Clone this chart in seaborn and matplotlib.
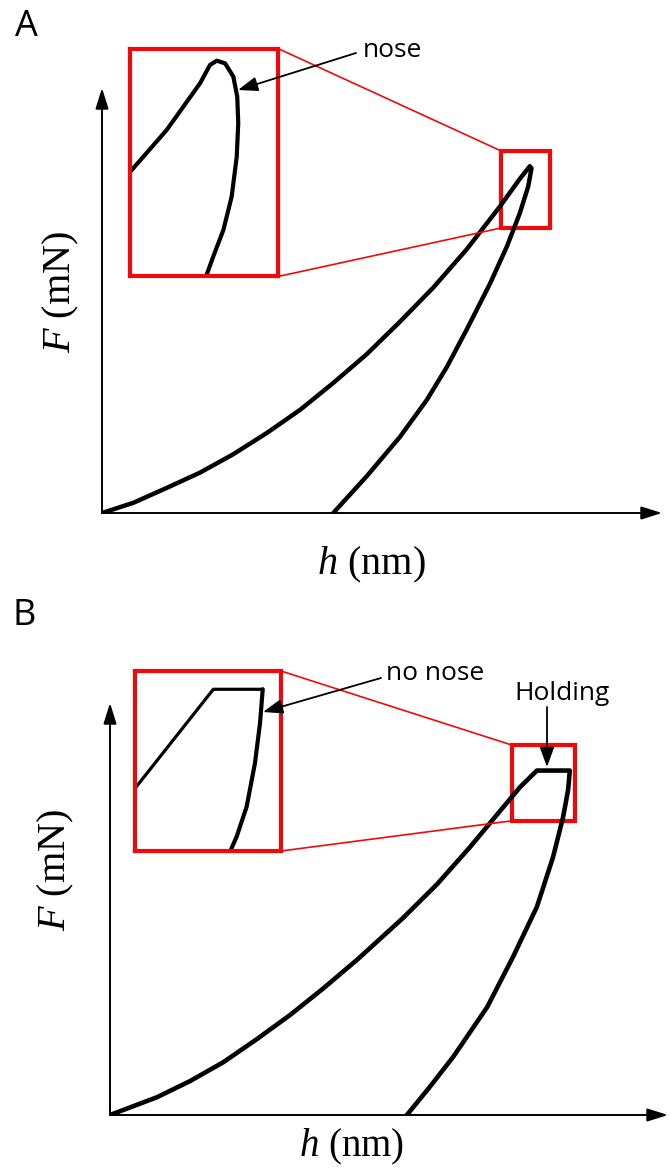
import numpy as np
import pandas as pd
import matplotlib
matplotlib.use("Agg")
import matplotlib.pyplot as plt
import seaborn as sns
from matplotlib.patches import Rectangle, ConnectionPatch, FancyArrowPatch

# ---------------- data (h in nm, F in mN, arbitrary schematic units) ----------------
# Panel A: loading / unloading curve with a "nose"
load_A_h = [0.0, 5.6, 11.55, 17.5, 23.4, 29.4, 35.4, 41.3, 47.3, 53.2, 59.2, 65.1, 71.1, 74.6, 76.4]
load_A_F = [0.0, 2.4, 5.9, 9.5, 13.8, 18.8, 24.3, 30.6, 37.4, 45.0, 53.1, 62.0, 72.2, 78.6, 81.6]
unload_A_h = [76.7, 76.1, 74.6, 72.3, 69.3, 65.1, 61.6, 58.0, 53.2, 47.3, 41.3]
unload_A_F = [81.1, 76.8, 70.5, 62.7, 54.0, 43.1, 34.4, 26.6, 17.9, 8.7, 0.0]
# zoomed view of the peak (panel A inset)
zoom_A_h = [71.0, 71.35, 73.42, 75.39, 75.98, 76.38, 76.87, 77.36, 77.59, 77.65, 77.56, 77.26, 76.77, 76.17, 75.74, 75.6]
zoom_A_F = [75.0, 75.53, 78.72, 82.43, 83.89, 84.23, 84.02, 82.96, 81.37, 79.27, 76.59, 73.41, 70.76, 68.64, 67.04, 66.5]

# Panel B: loading, holding, unloading (no nose)
load_B_h = [0.0, 8.4, 14.3, 20.3, 26.3, 32.3, 38.2, 44.3, 52.5, 58.6, 64.5, 70.4, 73.5, 76.5]
load_B_F = [0.0, 4.3, 8.2, 12.8, 18.4, 24.3, 30.7, 37.7, 47.8, 56.0, 65.0, 74.6, 79.6, 83.6]
hold_B_h = [76.5, 82.4]
hold_B_F = [83.6, 83.6]
unload_B_h = [82.4, 82.1, 81.2, 79.4, 76.5, 72.2, 67.6, 61.5, 57.3, 53.2]
unload_B_F = [83.6, 78.9, 72.3, 62.6, 50.5, 38.3, 26.2, 14.1, 6.8, 0.0]
# zoomed view of the peak (panel B inset)
zoom_B_load_h = [71.8, 78.08]
zoom_B_load_F = [77.4, 87.93]
zoom_B_hold_h = [78.08, 81.89]
zoom_B_hold_F = [87.93, 87.93]
zoom_B_unload_h = [81.89, 81.68, 81.29, 80.65, 79.88, 79.37, 79.2]
zoom_B_unload_F = [87.93, 84.45, 80.37, 75.93, 72.87, 71.33, 70.8]

panel_labels = ["A", "B"]
annot_A = "nose"
annot_B = "no nose"
annot_hold = "Holding"
xlabel = r"$h$ (nm)"
ylabel = r"$F$ (mN)"

# ---------------- style ----------------
sns.set_theme(style="white")
plt.rcParams["font.family"] = ["Open Sans", "DejaVu Sans"]
plt.rcParams["text.color"] = "black"
plt.rcParams["mathtext.fontset"] = "custom"
plt.rcParams["mathtext.rm"] = "Liberation Serif"
plt.rcParams["mathtext.it"] = "Liberation Serif:italic"

W, H = 670, 1168
RED = "#ee0a0a"
fig = plt.figure(figsize=(W / 100, H / 100), dpi=100)
fig.patch.set_facecolor("white")


def rect(left, top, right, bottom):
    return [left / W, 1 - bottom / H, (right - left) / W, (bottom - top) / H]


def fpt(x, y):
    return (x / W, 1 - y / H)


def curve(ax, hs, Fs, lw, color="black"):
    df = pd.DataFrame({"h": hs, "F": Fs})
    sns.lineplot(data=df, x="h", y="F", sort=False, estimator=None, ax=ax,
                 color=color, lw=lw, solid_capstyle="round", solid_joinstyle="round")


def clean(ax):
    ax.set_xlabel("")
    ax.set_ylabel("")
    ax.set_xticks([])
    ax.set_yticks([])
    for s in ax.spines.values():
        s.set_visible(False)
    ax.set_facecolor("none")


def axis_arrows(ax):
    kw = dict(arrowstyle="-|>,head_length=0.7,head_width=0.22", color="black",
              lw=1.4, mutation_scale=18, shrinkA=0, shrinkB=0)
    ax.annotate("", xy=(1, 0), xytext=(0, 0), xycoords="axes fraction",
                textcoords="axes fraction", arrowprops=kw, annotation_clip=False)
    ax.annotate("", xy=(0, 1), xytext=(0, 0), xycoords="axes fraction",
                textcoords="axes fraction", arrowprops=kw, annotation_clip=False)


def fig_arrow(p0, p1):
    a = FancyArrowPatch(fpt(*p0), fpt(*p1), transform=fig.transFigure,
                        arrowstyle="-|>,head_length=0.6,head_width=0.22",
                        mutation_scale=20, color="black", lw=1.3,
                        shrinkA=0, shrinkB=0, zorder=5)
    fig.add_artist(a)


def zoom_box(ax_main, ax_ins, h0, h1, F0, F1):
    ax_main.add_patch(Rectangle((h0, F0), h1 - h0, F1 - F0, fill=False,
                                ec=RED, lw=3.0, zorder=1))
    ax_ins.set_xlim(h0, h1)
    ax_ins.set_ylim(F0, F1)
    for s in ax_ins.spines.values():
        s.set_visible(True)
        s.set_color(RED)
        s.set_linewidth(3.0)
    ax_ins.set_facecolor("white")
    for (xa, ya), (xb, yb) in [((1, 1), (h0, F1)), ((1, 0), (h0, F0))]:
        cp = ConnectionPatch(xyA=(xa, ya), coordsA=ax_ins.transAxes,
                             xyB=(xb, yb), coordsB=ax_main.transData,
                             color=RED, lw=1.2, zorder=0.5)
        fig.add_artist(cp)


# ---------------- Panel A ----------------
axA = fig.add_axes(rect(102, 88, 662, 513))
curve(axA, load_A_h + unload_A_h, load_A_F + unload_A_F, lw=3.2)
axA.set_xlim(0, 100)
axA.set_ylim(0, 100)
clean(axA)
axis_arrows(axA)

insA = fig.add_axes(rect(130, 48.5, 278, 276.5))
curve(insA, zoom_A_h, zoom_A_F, lw=3.0)
clean(insA)
zoom_box(axA, insA, 71.25, 80.0, 67.06, 85.2)

fig.text(*fpt(15, 36), panel_labels[0], fontsize=26, ha="left", va="baseline")
fig.text(*fpt(363, 57), annot_A, fontsize=19, ha="left", va="baseline")
fig_arrow((356, 53), (238, 90))
fig.text(*fpt(371, 565), xlabel, fontsize=29, ha="center", va="center",
         family="Liberation Serif")
fig.text(*fpt(61, 292), ylabel, fontsize=29, ha="center", va="center",
         rotation=90, family="Liberation Serif")

# ---------------- Panel B ----------------
axB = fig.add_axes(rect(110, 703, 668, 1115))
curve(axB, load_B_h + hold_B_h + unload_B_h, load_B_F + hold_B_F + unload_B_F, lw=3.3)
axB.set_xlim(0, 100)
axB.set_ylim(0, 100)
clean(axB)
axis_arrows(axB)

insB = fig.add_axes(rect(134.5, 671, 281, 851))
curve(insB, zoom_B_load_h + zoom_B_hold_h, zoom_B_load_F + zoom_B_hold_F, lw=2.3)
curve(insB, zoom_B_unload_h, zoom_B_unload_F, lw=3.0)
clean(insB)
zoom_box(axB, insB, 72.0, 83.3, 71.4, 89.8)

fig.text(*fpt(13, 625), panel_labels[1], fontsize=26, ha="left", va="baseline")
fig.text(*fpt(386, 680), annot_B, fontsize=19, ha="left", va="baseline")
fig_arrow((381, 678), (263, 712))
fig.text(*fpt(562, 700), annot_hold, fontsize=19, ha="center", va="baseline")
fig_arrow((547, 707), (547, 767))
fig.text(*fpt(352, 1147), xlabel, fontsize=28, ha="center", va="center",
         family="Liberation Serif")
fig.text(*fpt(56, 870), ylabel, fontsize=29, ha="center", va="center",
         rotation=90, family="Liberation Serif")

fig.savefig("out.png", dpi=100, facecolor="white")
